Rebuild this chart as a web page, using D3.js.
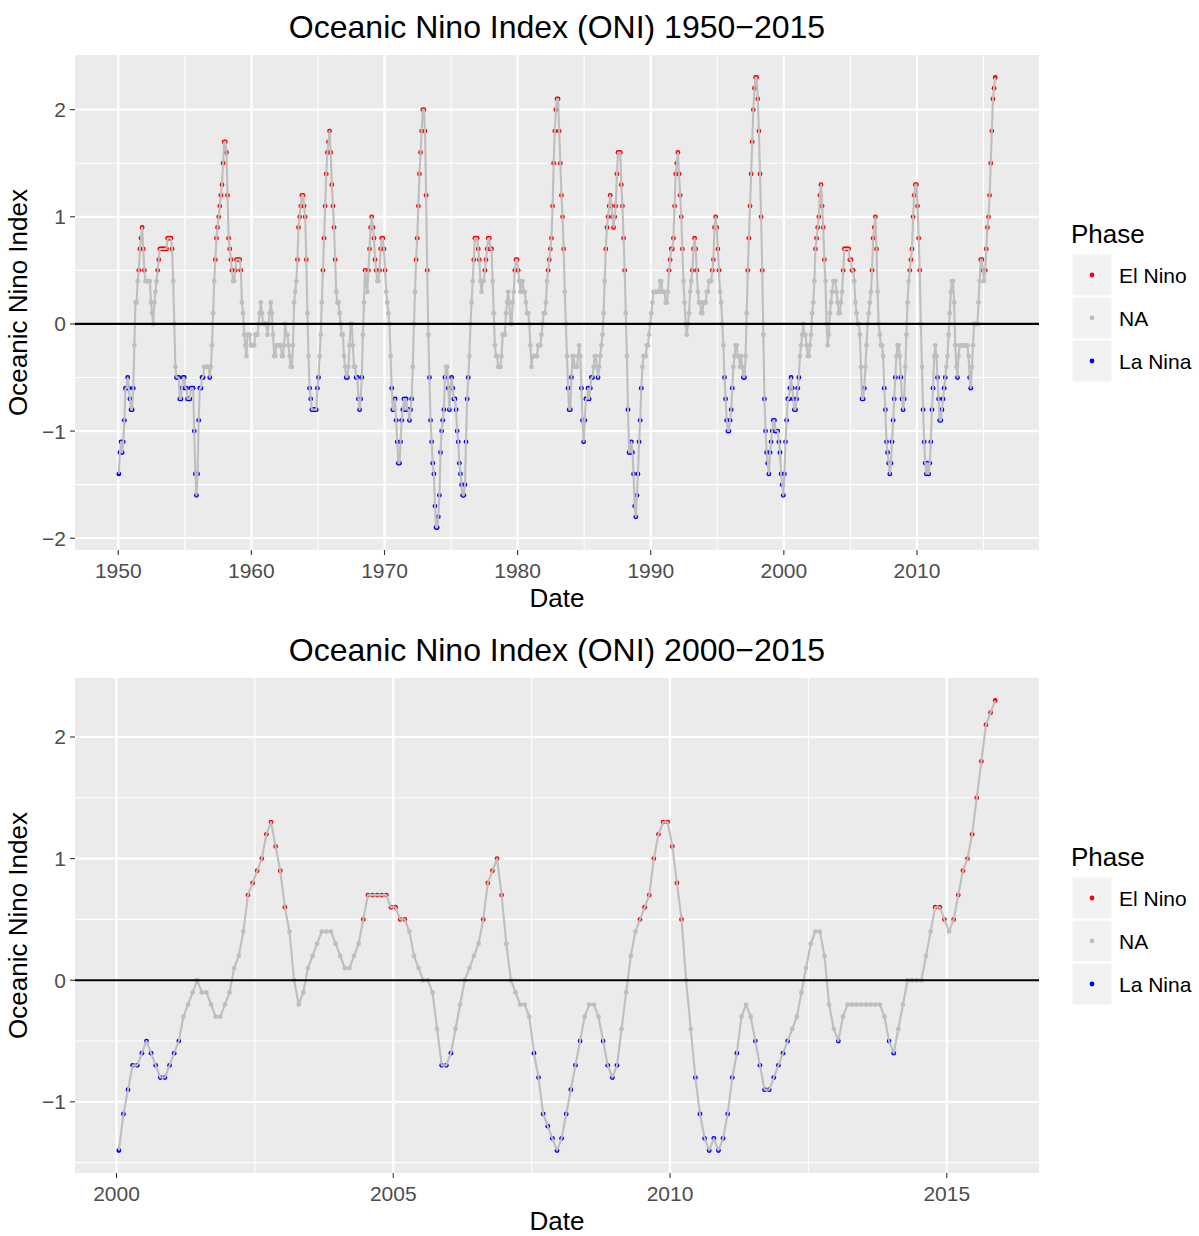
<!DOCTYPE html>
<html>
<head>
<meta charset="utf-8">
<script src="https://cdn.jsdelivr.net/npm/d3@7"></script>
<style>
  body { margin: 0; background: #ffffff; }
  text { font-family: "Liberation Sans", Arial, sans-serif; }
</style>
</head>
<body>
<svg id="viz"></svg>
<script>
// Monthly ONI values, Jan 1950 onward (one array per decade)
const oni1950s = [
  -1.4,-1.2,-1.1,-1.2,-1.1,-0.9,-0.6,-0.6,-0.5,-0.6,-0.7,-0.8,
  -0.8,-0.6,-0.2,0.2,0.2,0.4,0.5,0.7,0.8,0.9,0.7,0.5,
  0.4,0.4,0.4,0.4,0.4,0.2,0.1,0.0,0.2,0.3,0.4,0.5,
  0.6,0.7,0.7,0.7,0.7,0.7,0.7,0.7,0.8,0.8,0.8,0.8,
  0.7,0.4,0.0,-0.4,-0.5,-0.5,-0.5,-0.7,-0.7,-0.6,-0.5,-0.5,
  -0.6,-0.6,-0.7,-0.7,-0.7,-0.6,-0.6,-0.6,-1.0,-1.4,-1.6,-1.4,
  -0.9,-0.6,-0.6,-0.5,-0.5,-0.4,-0.4,-0.4,-0.4,-0.4,-0.5,-0.4,
  -0.2,0.1,0.4,0.6,0.8,0.9,1.0,1.1,1.2,1.3,1.5,1.7,
  1.7,1.6,1.2,0.8,0.7,0.6,0.5,0.4,0.4,0.5,0.6,0.6,
  0.6,0.6,0.5,0.2,0.1,-0.1,-0.2,-0.3,-0.1,-0.1,-0.1,-0.2
];
const oni1960s = [
  -0.2,-0.2,-0.2,-0.1,-0.1,-0.1,0.0,0.1,0.2,0.1,0.0,0.0,
  0.0,0.0,-0.1,0.0,0.1,0.2,0.1,-0.1,-0.3,-0.3,-0.2,-0.2,
  -0.2,-0.2,-0.2,-0.3,-0.3,-0.2,0.0,-0.1,-0.1,-0.2,-0.3,-0.4,
  -0.4,-0.2,0.2,0.3,0.4,0.6,0.9,1.0,1.1,1.2,1.2,1.1,
  1.0,0.6,0.1,-0.3,-0.6,-0.7,-0.8,-0.8,-0.8,-0.8,-0.8,-0.6,
  -0.5,-0.3,-0.1,0.2,0.5,0.8,1.1,1.4,1.6,1.7,1.8,1.6,
  1.3,1.1,0.9,0.6,0.3,0.2,0.2,0.1,0.0,-0.1,-0.1,-0.3,
  -0.4,-0.5,-0.5,-0.4,-0.2,0.0,0.0,-0.2,-0.4,-0.4,-0.5,-0.5,
  -0.7,-0.8,-0.7,-0.5,-0.1,0.2,0.5,0.4,0.3,0.5,0.7,0.9,
  1.0,0.9,0.8,0.6,0.5,0.4,0.4,0.5,0.7,0.8,0.8,0.7
];
const oni1970s = [
  0.5,0.3,0.2,0.1,0.0,-0.3,-0.6,-0.8,-0.8,-0.7,-0.9,-1.1,
  -1.3,-1.3,-1.1,-0.9,-0.8,-0.7,-0.8,-0.7,-0.8,-0.8,-0.9,-0.8,
  -0.7,-0.4,0.0,0.3,0.6,0.8,1.1,1.4,1.6,1.8,2.0,2.0,
  1.8,1.2,0.5,-0.1,-0.5,-0.9,-1.1,-1.3,-1.4,-1.7,-1.9,-1.9,
  -1.8,-1.6,-1.2,-1.0,-0.9,-0.8,-0.5,-0.4,-0.4,-0.6,-0.8,-0.6,
  -0.5,-0.6,-0.7,-0.7,-0.8,-1.0,-1.1,-1.3,-1.4,-1.5,-1.6,-1.6,
  -1.5,-1.1,-0.7,-0.5,-0.3,0.0,0.2,0.4,0.6,0.8,0.8,0.8,
  0.7,0.6,0.4,0.3,0.4,0.4,0.5,0.6,0.7,0.8,0.8,0.7,
  0.7,0.4,0.1,-0.2,-0.3,-0.3,-0.4,-0.4,-0.4,-0.3,-0.1,-0.1,
  -0.1,0.1,0.2,0.3,0.2,0.0,0.0,0.2,0.3,0.5,0.6,0.6
];
const oni1980s = [
  0.5,0.4,0.3,0.4,0.4,0.3,0.3,0.2,0.1,0.1,0.0,-0.2,
  -0.4,-0.3,-0.3,-0.3,-0.3,-0.3,-0.2,-0.2,-0.2,-0.1,0.0,0.1,
  0.1,0.2,0.4,0.5,0.6,0.7,0.8,1.1,1.5,1.8,2.0,2.1,
  2.1,1.8,1.5,1.2,1.0,0.7,0.3,0.0,-0.3,-0.6,-0.8,-0.8,
  -0.5,-0.3,-0.3,-0.4,-0.4,-0.4,-0.3,-0.2,-0.3,-0.6,-0.9,-1.1,
  -0.9,-0.7,-0.7,-0.6,-0.7,-0.6,-0.5,-0.5,-0.4,-0.3,-0.3,-0.4,
  -0.5,-0.4,-0.3,-0.2,-0.1,0.1,0.4,0.7,0.9,1.0,1.1,1.2,
  1.1,1.0,0.9,1.0,1.1,1.4,1.6,1.6,1.6,1.3,1.1,0.8,
  0.5,0.1,-0.3,-0.8,-1.2,-1.2,-1.1,-1.2,-1.4,-1.7,-1.8,-1.6,
  -1.4,-1.1,-0.9,-0.6,-0.4,-0.3,-0.3,-0.3,-0.2,-0.2,-0.1,0.0
];
const oni1990s = [
  0.1,0.2,0.3,0.3,0.3,0.3,0.3,0.3,0.4,0.4,0.3,0.3,
  0.3,0.2,0.2,0.3,0.5,0.6,0.7,0.7,0.8,1.1,1.4,1.5,
  1.6,1.4,1.2,1.0,0.7,0.4,0.2,0.0,-0.1,0.0,0.1,0.3,
  0.4,0.5,0.7,0.8,0.7,0.5,0.3,0.2,0.2,0.1,0.1,0.2,
  0.2,0.2,0.3,0.3,0.4,0.4,0.4,0.5,0.6,0.9,1.0,0.9,
  0.7,0.5,0.3,0.2,0.0,-0.2,-0.5,-0.7,-0.9,-1.0,-1.0,-0.9,
  -0.8,-0.6,-0.4,-0.3,-0.2,-0.2,-0.3,-0.3,-0.4,-0.3,-0.4,-0.5,
  -0.5,-0.3,0.1,0.5,0.8,1.1,1.4,1.7,2.0,2.2,2.3,2.3,
  2.1,1.8,1.4,1.0,0.5,-0.1,-0.7,-1.0,-1.2,-1.3,-1.4,-1.2,
  -1.1,-1.0,-0.9,-0.9,-1.0,-1.0,-1.0,-1.1,-1.2,-1.4,-1.5,-1.6
];
const oni2000s = [
  -1.4,-1.1,-0.9,-0.7,-0.7,-0.6,-0.5,-0.6,-0.7,-0.8,-0.8,-0.7,
  -0.6,-0.5,-0.3,-0.2,-0.1,0.0,-0.1,-0.1,-0.2,-0.3,-0.3,-0.2,
  -0.1,0.1,0.2,0.4,0.7,0.8,0.9,1.0,1.2,1.3,1.1,0.9,
  0.6,0.4,0.0,-0.2,-0.1,0.1,0.2,0.3,0.4,0.4,0.4,0.3,
  0.2,0.1,0.1,0.2,0.3,0.5,0.7,0.7,0.7,0.7,0.7,0.6,
  0.6,0.5,0.5,0.4,0.2,0.1,0.0,0.0,-0.1,-0.4,-0.7,-0.7,
  -0.6,-0.4,-0.2,0.0,0.1,0.2,0.3,0.5,0.8,0.9,1.0,0.7,
  0.3,0.0,-0.1,-0.2,-0.2,-0.3,-0.6,-0.8,-1.1,-1.2,-1.3,-1.4,
  -1.3,-1.1,-0.9,-0.7,-0.5,-0.3,-0.2,-0.2,-0.3,-0.5,-0.7,-0.8,
  -0.7,-0.4,-0.1,0.2,0.4,0.5,0.6,0.7,1.0,1.2,1.3,1.3
];
const oni2010s = [
  1.1,0.8,0.5,0.0,-0.4,-0.8,-1.1,-1.3,-1.4,-1.3,-1.4,-1.3,
  -1.1,-0.8,-0.6,-0.3,-0.2,-0.3,-0.5,-0.7,-0.9,-0.9,-0.8,-0.7,
  -0.6,-0.5,-0.4,-0.3,-0.1,0.1,0.3,0.4,0.4,0.2,-0.2,-0.4,
  -0.5,-0.3,-0.2,-0.2,-0.2,-0.2,-0.2,-0.2,-0.2,-0.2,-0.3,-0.5,
  -0.6,-0.4,-0.2,0.0,0.0,0.0,0.0,0.2,0.4,0.6,0.6,0.5,
  0.4,0.5,0.7,0.9,1.0,1.2,1.5,1.8,2.1,2.2,2.3
];

const startYear = 1950;
const phaseLabels = ["El Nino", "NA", "La Nina"];
const phaseColors = ["#FF0000", "#BEBEBE", "#0000FF"];
const xTicksFull = [1950, 1960, 1970, 1980, 1990, 2000, 2010];
const xTicksRecent = [2000, 2005, 2010, 2015];
const yTicksFull = [-2, -1, 0, 1, 2];
const yTicksRecent = [-1, 0, 1, 2];

// Build the monthly series (dates placed mid-month, in decimal years)
const values = [].concat(oni1950s, oni1960s, oni1970s, oni1980s, oni1990s, oni2000s, oni2010s);
const data = values.map((v, i) => ({
  date: startYear + (i + 0.5) / 12,
  value: v,
  phase: v >= 0.5 ? "El Nino" : v <= -0.5 ? "La Nina" : "NA"
}));
const phaseColor = d3.scaleOrdinal().domain(phaseLabels).range(phaseColors);

const width = 1199;
const height = 1236;
const svg = d3.select("#viz").attr("width", width).attr("height", height);

const panelLeft = 75;
const panelRight = 1039;

// Draws one ggplot-like panel
function drawChart(rows, opts) {
  const g = svg.append("g");
  const top = opts.top;
  const bottom = opts.bottom;

  const xExt = d3.extent(rows, (d) => d.date);
  const xPad = (xExt[1] - xExt[0]) * 0.05;
  const x = d3.scaleLinear()
    .domain([xExt[0] - xPad, xExt[1] + xPad])
    .range([panelLeft, panelRight]);

  const yExt = d3.extent(rows, (d) => d.value);
  const yPad = (yExt[1] - yExt[0]) * 0.05;
  const y = d3.scaleLinear()
    .domain([yExt[0] - yPad, yExt[1] + yPad])
    .range([bottom, top]);

  // panel background
  g.append("rect")
    .attr("x", panelLeft).attr("y", top)
    .attr("width", panelRight - panelLeft).attr("height", bottom - top)
    .attr("fill", "#EBEBEB");

  // minor grid
  g.selectAll(".xminor").data(opts.xMinor).enter().append("line")
    .attr("x1", (d) => x(d)).attr("x2", (d) => x(d))
    .attr("y1", top).attr("y2", bottom)
    .attr("stroke", "#ffffff").attr("stroke-width", 1.1);
  g.selectAll(".yminor").data(opts.yMinor).enter().append("line")
    .attr("x1", panelLeft).attr("x2", panelRight)
    .attr("y1", (d) => y(d)).attr("y2", (d) => y(d))
    .attr("stroke", "#ffffff").attr("stroke-width", 1.1);

  // major grid
  g.selectAll(".xmajor").data(opts.xTicks).enter().append("line")
    .attr("x1", (d) => x(d)).attr("x2", (d) => x(d))
    .attr("y1", top).attr("y2", bottom)
    .attr("stroke", "#ffffff").attr("stroke-width", 2.2);
  g.selectAll(".ymajor").data(opts.yTicks).enter().append("line")
    .attr("x1", panelLeft).attr("x2", panelRight)
    .attr("y1", (d) => y(d)).attr("y2", (d) => y(d))
    .attr("stroke", "#ffffff").attr("stroke-width", 2.2);

  // points first, the line is drawn over them
  g.selectAll(".pt").data(rows).enter().append("circle")
    .attr("cx", (d) => x(d.date))
    .attr("cy", (d) => y(d.value))
    .attr("r", 2.4)
    .attr("fill", (d) => phaseColor(d.phase));

  const line = d3.line().x((d) => x(d.date)).y((d) => y(d.value));
  g.append("path")
    .datum(rows)
    .attr("d", line)
    .attr("fill", "none")
    .attr("stroke", "#BEBEBE")
    .attr("stroke-width", 2.1)
    .attr("stroke-linejoin", "round");

  // zero line
  g.append("line")
    .attr("x1", panelLeft).attr("x2", panelRight)
    .attr("y1", y(0)).attr("y2", y(0))
    .attr("stroke", "#000000").attr("stroke-width", 2.2);

  // axes ticks and labels
  g.selectAll(".xtick").data(opts.xTicks).enter().append("line")
    .attr("x1", (d) => x(d)).attr("x2", (d) => x(d))
    .attr("y1", bottom).attr("y2", bottom + 5)
    .attr("stroke", "#333333").attr("stroke-width", 1.1);
  g.selectAll(".xlab").data(opts.xTicks).enter().append("text")
    .attr("x", (d) => x(d)).attr("y", bottom + 28)
    .attr("text-anchor", "middle")
    .attr("font-size", 21).attr("fill", "#4D4D4D")
    .text((d) => d);

  g.selectAll(".ytick").data(opts.yTicks).enter().append("line")
    .attr("x1", panelLeft - 5).attr("x2", panelLeft)
    .attr("y1", (d) => y(d)).attr("y2", (d) => y(d))
    .attr("stroke", "#333333").attr("stroke-width", 1.1);
  g.selectAll(".ylab").data(opts.yTicks).enter().append("text")
    .attr("x", panelLeft - 9).attr("y", (d) => y(d) + 7.5)
    .attr("text-anchor", "end")
    .attr("font-size", 21).attr("fill", "#4D4D4D")
    .text((d) => (d < 0 ? "\u2212" + Math.abs(d) : d));

  // titles
  g.append("text")
    .attr("x", (panelLeft + panelRight) / 2).attr("y", top - 17)
    .attr("text-anchor", "middle").attr("font-size", 32)
    .text(opts.title);
  g.append("text")
    .attr("x", (panelLeft + panelRight) / 2).attr("y", bottom + 57)
    .attr("text-anchor", "middle").attr("font-size", 26)
    .text("Date");
  const midY = (top + bottom) / 2;
  g.append("text")
    .attr("transform", `translate(27,${midY}) rotate(-90)`)
    .attr("text-anchor", "middle").attr("font-size", 26)
    .text("Oceanic Nino Index");

  // legend
  const lg = g.append("g").attr("transform", `translate(1071,${midY})`);
  lg.append("text").attr("x", 0).attr("y", -60).attr("font-size", 26).text("Phase");
  phaseLabels.forEach((p, i) => {
    const cy = -27.5 + i * 43;
    lg.append("rect")
      .attr("x", 1).attr("y", cy - 21)
      .attr("width", 40).attr("height", 42)
      .attr("fill", "#F2F2F2").attr("stroke", "#ffffff").attr("stroke-width", 1.1);
    lg.append("circle").attr("cx", 21).attr("cy", cy).attr("r", 2.4).attr("fill", phaseColor(p));
    lg.append("text").attr("x", 48).attr("y", cy + 7.5).attr("font-size", 21).text(p);
  });
}

drawChart(data, {
  top: 55, bottom: 550,
  title: "Oceanic Nino Index (ONI) 1950\u22122015",
  xTicks: xTicksFull,
  xMinor: [1955, 1965, 1975, 1985, 1995, 2005, 2015],
  yTicks: yTicksFull,
  yMinor: [-1.5, -0.5, 0.5, 1.5]
});

drawChart(data.filter((d) => d.date >= 2000), {
  top: 678, bottom: 1173,
  title: "Oceanic Nino Index (ONI) 2000\u22122015",
  xTicks: xTicksRecent,
  xMinor: [2002.5, 2007.5, 2012.5],
  yTicks: yTicksRecent,
  yMinor: [-1.5, -0.5, 0.5, 1.5]
});
</script>
</body>
</html>
